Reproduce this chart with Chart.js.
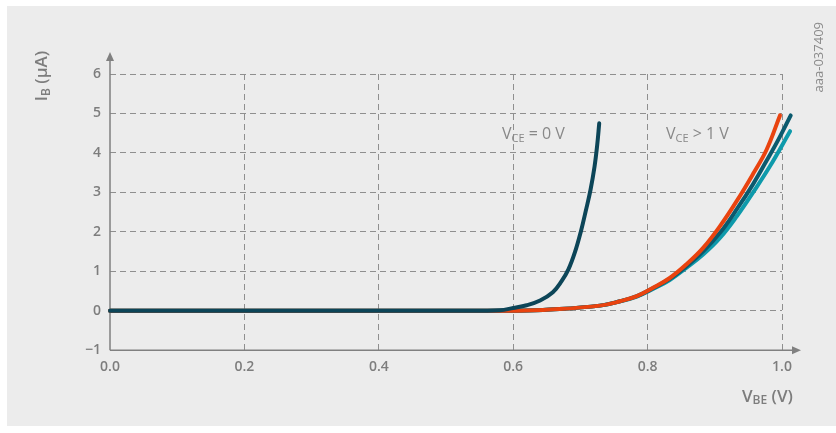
<!DOCTYPE html>
<html>
<head>
<meta charset="utf-8">
<script src="https://cdn.jsdelivr.net/npm/chart.js@4.4.1/dist/chart.umd.min.js"></script>
<style>
  html, body { margin: 0; padding: 0; background: #ffffff; }
  #wrap { position: relative; width: 836px; height: 433px; }
</style>
</head>
<body>
<div id="wrap"><canvas id="ibChart" width="836" height="433"></canvas></div>
<script>
// Input characteristic: I_B vs V_BE
const xTicks = [0, 0.2, 0.4, 0.6, 0.8, 1.0];
const yTicks = [-1, 0, 1, 2, 3, 4, 5, 6];

// V_CE = 0 V
const vbeZero = [0, 0.3, 0.55, 0.58, 0.600, 0.620, 0.640, 0.659, 0.672, 0.682, 0.692, 0.701, 0.708, 0.715, 0.721, 0.725, 0.728];
const ibZero  = [0, 0, 0, 0.01, 0.07, 0.14, 0.26, 0.47, 0.75, 1.04, 1.49, 2.03, 2.53, 3.06, 3.65, 4.20, 4.75];

// V_CE > 1 V (three curves)
const vbeOrange = [0, 0.55, 0.606, 0.655, 0.729, 0.759, 0.784, 0.808, 0.833, 0.858, 0.883, 0.908, 0.933, 0.957, 0.977, 0.997];
const ibOrange  = [0, 0, 0, 0.03, 0.13, 0.24, 0.37, 0.58, 0.83, 1.18, 1.60, 2.15, 2.79, 3.47, 4.08, 4.95];

const vbeTeal = [0, 0.55, 0.606, 0.655, 0.729, 0.759, 0.784, 0.808, 0.833, 0.858, 0.883, 0.908, 0.933, 0.957, 0.977, 0.995, 1.013];
const ibTeal  = [0, 0, 0, 0.03, 0.13, 0.24, 0.37, 0.57, 0.81, 1.13, 1.51, 1.98, 2.58, 3.21, 3.80, 4.35, 4.95];

const vbeCyan = [0, 0.55, 0.606, 0.655, 0.729, 0.759, 0.784, 0.808, 0.833, 0.858, 0.883, 0.908, 0.933, 0.957, 0.982, 1.012];
const ibCyan  = [0, 0, 0, 0.03, 0.13, 0.24, 0.36, 0.55, 0.78, 1.09, 1.43, 1.85, 2.40, 3.00, 3.66, 4.55];

const toPoints = (xs, ys) => xs.map((x, i) => ({ x: x, y: ys[i] }));

const textColor = '#7d7d7d';
const gridColor = '#8f8f8f';

function drawSub(ctx, x, y, parts) {
    // parts: [text, font, dy]
    let cx = x;
    parts.forEach(p => {
        ctx.font = p[1];
        ctx.fillText(p[0], cx, y + p[2]);
        cx += ctx.measureText(p[0]).width;
    });
}

function subWidth(ctx, parts) {
    let w = 0;
    parts.forEach(p => { ctx.font = p[1]; w += ctx.measureText(p[0]).width; });
    return w;
}

const decorPlugin = {
    id: 'decor',
    beforeDraw(chart) {
        const ctx = chart.ctx;
        ctx.save();
        ctx.fillStyle = '#ffffff';
        ctx.fillRect(0, 0, chart.width, chart.height);
        ctx.fillStyle = '#ececec';
        ctx.fillRect(7, 6, chart.width - 7, chart.height - 13);
        ctx.restore();
    },
    beforeDatasetsDraw(chart) {
        const ctx = chart.ctx;
        const a = chart.chartArea;
        ctx.save();
        ctx.strokeStyle = '#808080';
        ctx.fillStyle = '#808080';
        ctx.lineWidth = 1.5;
        ctx.beginPath();
        ctx.moveTo(a.left, a.bottom);
        ctx.lineTo(794, a.bottom);
        ctx.moveTo(a.left, a.bottom);
        ctx.lineTo(a.left, 59);
        ctx.stroke();
        // arrow heads
        ctx.beginPath();
        ctx.moveTo(801, a.bottom);
        ctx.lineTo(792, a.bottom - 4);
        ctx.lineTo(792, a.bottom + 4);
        ctx.closePath();
        ctx.fill();
        ctx.beginPath();
        ctx.moveTo(a.left, 52);
        ctx.lineTo(a.left - 4, 61);
        ctx.lineTo(a.left + 4, 61);
        ctx.closePath();
        ctx.fill();
        ctx.restore();
    },
    afterDraw(chart) {
        const ctx = chart.ctx;
        ctx.save();
        ctx.fillStyle = textColor;
        ctx.textBaseline = 'alphabetic';
        ctx.textAlign = 'left';

        // y axis title, rotated
        const yParts = [['I', '600 17px "Open Sans"', 0], ['B', '600 12px "Open Sans"', 3], [' (µA)', '600 17px "Open Sans"', 0]];
        const yw = subWidth(ctx, yParts);
        ctx.save();
        ctx.translate(47, 76);
        ctx.rotate(-Math.PI / 2);
        drawSub(ctx, -yw / 2, 0, yParts);
        ctx.restore();

        // x axis title
        drawSub(ctx, 742, 402, [['V', '600 17px "Open Sans"', 0], ['BE', '600 12px "Open Sans"', 2], [' (V)', '600 17px "Open Sans"', 0]]);

        // curve annotations
        ctx.fillStyle = '#888888';
        drawSub(ctx, 502, 139, [['V', '16px "Open Sans"', 0], ['CE', '11px "Open Sans"', 3], [' = 0 V', '16px "Open Sans"', 0]]);
        drawSub(ctx, 666, 139, [['V', '16px "Open Sans"', 0], ['CE', '11px "Open Sans"', 3], [' > 1 V', '16px "Open Sans"', 0]]);

        // figure code
        ctx.save();
        ctx.translate(823, 22);
        ctx.rotate(-Math.PI / 2);
        ctx.textAlign = 'right';
        ctx.font = '13px "Open Sans"';
        ctx.fillStyle = '#8a8a8a';
        ctx.fillText('aaa-037409', 0, 0);
        ctx.restore();

        ctx.restore();
    }
};

const lineStyle = {
    borderWidth: 4,
    pointRadius: 0,
    fill: false,
    tension: 0.4,
    clip: false,
    borderCapStyle: 'round',
    borderJoinStyle: 'round'
};

new Chart(document.getElementById('ibChart'), {
    type: 'line',
    data: {
        datasets: [
            Object.assign({ label: 'VCE=0 V', data: toPoints(vbeZero, ibZero), borderColor: '#0c4558', order: 1 }, lineStyle),
            Object.assign({ label: 'VCE>1 V a', data: toPoints(vbeOrange, ibOrange), borderColor: '#e9430f', order: 2 }, lineStyle),
            Object.assign({ label: 'VCE>1 V b', data: toPoints(vbeTeal, ibTeal), borderColor: '#0b5a6e', order: 3 }, lineStyle),
            Object.assign({ label: 'VCE>1 V c', data: toPoints(vbeCyan, ibCyan), borderColor: '#0e9aab', order: 4 }, lineStyle)
        ]
    },
    options: {
        responsive: false,
        animation: false,
        layout: { padding: { left: 76, right: 54, top: 74, bottom: 50 } },
        plugins: {
            legend: { display: false },
            tooltip: { enabled: false }
        },
        scales: {
            x: {
                type: 'linear',
                min: 0,
                max: 1.0,
                afterBuildTicks: s => { s.ticks = xTicks.map(v => ({ value: v })); },
                grid: {
                    drawTicks: false,
                    color: c => (c.tick && c.tick.value === 0) ? 'rgba(0,0,0,0)' : gridColor,
                    lineWidth: 1
                },
                border: { display: false, dash: [6, 4] },
                ticks: {
                    padding: 8,
                    color: textColor,
                    font: { family: 'Open Sans', size: 14, weight: '600' },
                    callback: v => v.toFixed(1)
                }
            },
            y: {
                type: 'linear',
                min: -1,
                max: 6,
                afterBuildTicks: s => { s.ticks = yTicks.map(v => ({ value: v })); },
                grid: {
                    drawTicks: false,
                    color: c => (c.tick && c.tick.value === -1) ? 'rgba(0,0,0,0)' : gridColor,
                    lineWidth: 1
                },
                border: { display: false, dash: [6, 4] },
                ticks: {
                    padding: 9,
                    color: textColor,
                    font: { family: 'Open Sans', size: 14, weight: '600' },
                    callback: v => v < 0 ? '\u2212' + Math.abs(v) : String(v)
                }
            }
        }
    },
    plugins: [decorPlugin]
});
</script>
</body>
</html>
